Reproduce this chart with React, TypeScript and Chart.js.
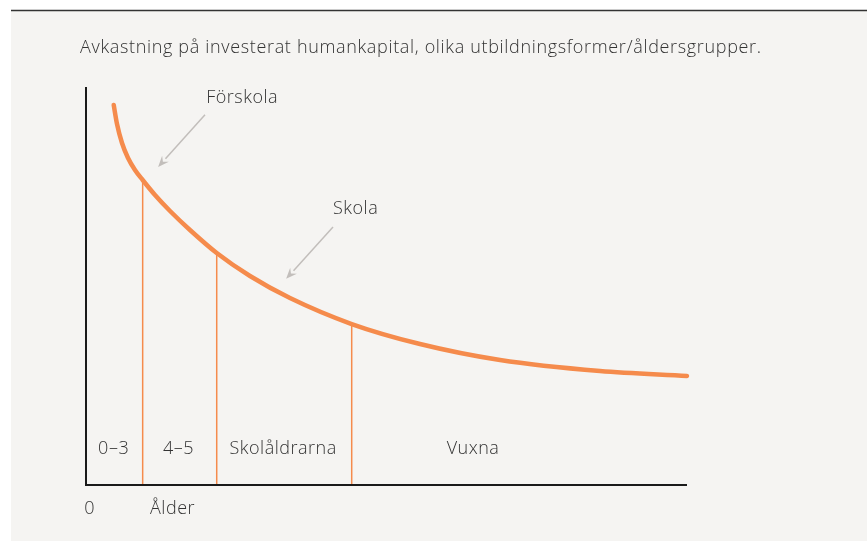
import React, { useEffect, useRef } from "react";
import { Chart, registerables } from "chart.js";

Chart.register(...registerables);

// ---- data (chart units: x 0..100 age axis, y 0..100 return) ----
const titleText =
  "Avkastning på investerat humankapital, olika utbildningsformer/åldersgrupper.";

const curveX = [4.61, 5.16, 5.99, 6.99, 8.15, 9.43, 11.48, 13.98, 17.3, 21.75, 27.29, 33.94, 44.21, 55.57, 68.89, 85.52, 100];
const curveY = [95.48, 90.7, 85.93, 82.16, 79.15, 76.63, 72.86, 68.84, 64.07, 58.29, 52.51, 46.98, 40.45, 35.43, 31.41, 28.64, 27.39];

const dividerX = [9.43, 21.75, 44.21];
const dividerTop = [76.63, 58.29, 40.45];

const segmentLabels = ["0–3", "4–5", "Skolåldrarna", "Vuxna"];
const segmentLabelX = [4.6, 15.4, 32.8, 64.4];
const segmentLabelY = 9.0;

const axisLabels = ["0", "Ålder"];
const axisLabelX = [0.6, 14.4];
const axisLabelY = -5.9;

const annotationTexts = ["Förskola", "Skola"];
const annotationTextX = [20.0, 41.1];
const annotationTextY = [97.2, 69.3];
const arrowFromX = [19.8, 41.1];
const arrowFromY = [93.0, 64.8];
const arrowToX = [12.0, 33.3];
const arrowToY = [79.9, 51.8];

const ORANGE = "#f58b4c";
const TEXT = "#333333";
const BG = "#f5f4f2";
const FONT = "300 18px 'Open Sans', sans-serif";
const SPACING = "0.5px";
const TITLE_SPACING = "0.66px";

const decorPlugin = {
  id: "decor",
  beforeDraw(chart: any) {
    const { ctx, width, height } = chart;
    ctx.save();
    ctx.fillStyle = "#ffffff";
    ctx.fillRect(0, 0, width, height);
    ctx.fillStyle = BG;
    ctx.fillRect(11, 11, width - 11, height - 11);
    ctx.strokeStyle = "#333333";
    ctx.lineWidth = 1.5;
    ctx.beginPath();
    ctx.moveTo(11, 10.5);
    ctx.lineTo(width, 10.5);
    ctx.stroke();
    // title
    ctx.fillStyle = TEXT;
    ctx.font = FONT;
    (ctx as any).letterSpacing = TITLE_SPACING;
    ctx.textBaseline = "middle";
    ctx.textAlign = "left";
    ctx.fillText(titleText, 80, 48);
    ctx.restore();
  },
  afterDatasetsDraw(chart: any) {
    const { ctx, scales, chartArea } = chart;
    const xs = scales.x;
    const ys = scales.y;
    ctx.save();
    // axes
    ctx.strokeStyle = "#1a1a1a";
    ctx.lineWidth = 2;
    ctx.beginPath();
    ctx.moveTo(chartArea.left, chartArea.top);
    ctx.lineTo(chartArea.left, chartArea.bottom);
    ctx.lineTo(chartArea.right, chartArea.bottom);
    ctx.stroke();

    ctx.fillStyle = TEXT;
    ctx.font = FONT;
    (ctx as any).letterSpacing = SPACING;
    ctx.textBaseline = "middle";
    ctx.textAlign = "center";
    segmentLabels.forEach((t, i) => {
      ctx.fillText(t, xs.getPixelForValue(segmentLabelX[i]), ys.getPixelForValue(segmentLabelY));
    });
    axisLabels.forEach((t, i) => {
      ctx.fillText(t, xs.getPixelForValue(axisLabelX[i]), ys.getPixelForValue(axisLabelY));
    });
    ctx.textAlign = "left";
    annotationTexts.forEach((t, i) => {
      ctx.fillText(t, xs.getPixelForValue(annotationTextX[i]), ys.getPixelForValue(annotationTextY[i]));
    });
    // arrows
    ctx.strokeStyle = "#c2bebb";
    ctx.fillStyle = "#c2bebb";
    ctx.lineWidth = 1.5;
    arrowFromX.forEach((_, i) => {
      const x1 = xs.getPixelForValue(arrowFromX[i]);
      const y1 = ys.getPixelForValue(arrowFromY[i]);
      const x2 = xs.getPixelForValue(arrowToX[i]);
      const y2 = ys.getPixelForValue(arrowToY[i]);
      const ang = Math.atan2(y2 - y1, x2 - x1);
      const head = 11;
      const hw = 4.5;
      const bx = x2 - head * Math.cos(ang);
      const by = y2 - head * Math.sin(ang);
      ctx.beginPath();
      ctx.moveTo(x1, y1);
      ctx.lineTo(bx, by);
      ctx.stroke();
      ctx.beginPath();
      ctx.moveTo(x2, y2);
      ctx.lineTo(bx + hw * Math.sin(ang), by - hw * Math.cos(ang));
      ctx.lineTo(bx + 0.35 * head * Math.cos(ang), by + 0.35 * head * Math.sin(ang));
      ctx.lineTo(bx - hw * Math.sin(ang), by + hw * Math.cos(ang));
      ctx.closePath();
      ctx.fill();
    });
    ctx.restore();
  },
};

export default function App() {
  const ref = useRef<HTMLCanvasElement | null>(null);
  useEffect(() => {
    document.body.style.margin = "0";
    const canvas = ref.current;
    if (!canvas) return;
    const dividerSets = dividerX.map((x, i) => ({
      data: [
        { x, y: 0 },
        { x, y: dividerTop[i] },
      ],
      borderColor: ORANGE,
      borderWidth: 1.5,
      pointRadius: 0,
      tension: 0,
      clip: false as any,
    }));
    const chart = new Chart(canvas, {
      type: "line",
      data: {
        datasets: [
          ...dividerSets,
          {
            data: curveX.map((x, i) => ({ x, y: curveY[i] })),
            borderColor: ORANGE,
            borderWidth: 4.5,
            borderCapStyle: "round",
            borderJoinStyle: "round",
            pointRadius: 0,
            cubicInterpolationMode: "monotone",
            clip: false as any,
          },
        ],
      },
      options: {
        responsive: false,
        animation: false,
        layout: { padding: { left: 86, right: 180, top: 87, bottom: 56 } },
        plugins: { legend: { display: false }, tooltip: { enabled: false }, title: { display: false } },
        scales: {
          x: { type: "linear", min: 0, max: 100, display: false },
          y: { type: "linear", min: 0, max: 100, display: false },
        },
      },
      plugins: [decorPlugin],
    });
    return () => chart.destroy();
  }, []);
  return (
    <div style={{ width: 867, height: 541 }}>
      <canvas ref={ref} width={867} height={541} style={{ display: "block" }} />
    </div>
  );
}
